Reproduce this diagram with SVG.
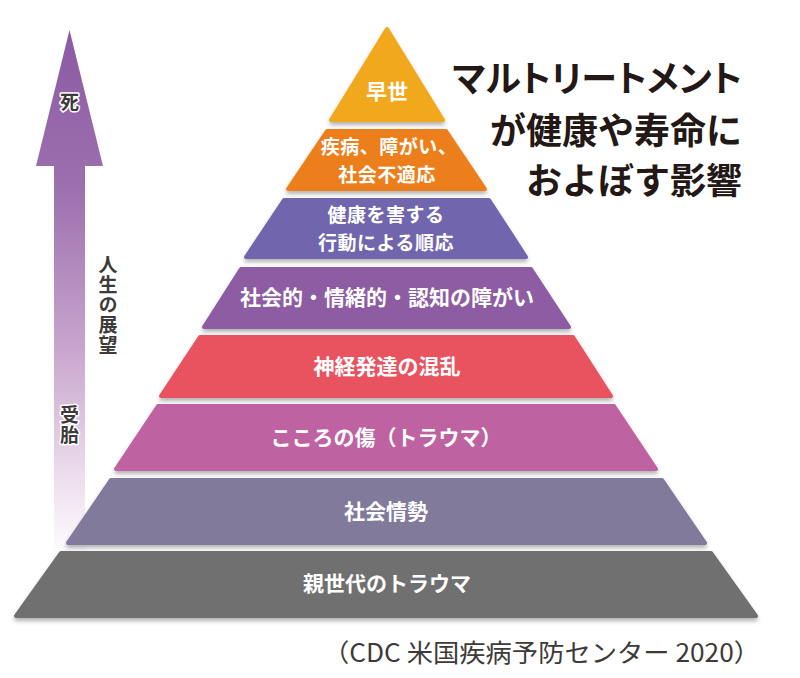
<svg xmlns="http://www.w3.org/2000/svg" width="800" height="678" viewBox="0 0 800 678">
<defs>
  <linearGradient id="arrowGrad" gradientUnits="userSpaceOnUse" x1="0" y1="30" x2="0" y2="560">
    <stop offset="0" stop-color="#8B5AA3"/>
    <stop offset="0.3" stop-color="#9D70AF"/>
    <stop offset="0.6" stop-color="#C8A5CD"/>
    <stop offset="0.85" stop-color="#EEDFEE"/>
    <stop offset="1" stop-color="#FFFFFF"/>
  </linearGradient>
  <filter id="shadow" x="-10%" y="-20%" width="120%" height="150%">
    <feDropShadow dx="0" dy="3" stdDeviation="2" flood-color="#000" flood-opacity="0.3"/>
  </filter>
  <style>
    .tier { stroke-width: 4; stroke-linejoin: round; filter: url(#shadow); }
    .lbl { font-family: "Noto Sans CJK JP", "Noto Sans", sans-serif; font-weight: bold; font-size: 21px; fill: #FFFFFF; text-anchor: middle; }
    .two { font-size: 19px; letter-spacing: 0.5px; }
    .title { font-family: "Noto Sans CJK JP", "Noto Sans", sans-serif; font-weight: bold; font-size: 36px; fill: #231815; text-anchor: end; }
    .side { font-family: "Noto Sans CJK JP", "Noto Sans", sans-serif; font-weight: bold; font-size: 19px; fill: #3E3A39; }
    .vert { writing-mode: vertical-rl; letter-spacing: 1px; }
    .halo { paint-order: stroke; stroke: #FFFFFF; stroke-width: 3; stroke-linejoin: round; }
    .cite { font-family: "Noto Sans CJK JP", "Noto Sans", sans-serif; font-size: 25px; fill: #3E3A39; text-anchor: end; }
  </style>
</defs>
<rect width="800" height="678" fill="#FFFFFF"/>

<g id="arrow">
  <polygon points="69.5,30 103,166 85,166 85,560 54,560 54,166 36,166" fill="url(#arrowGrad)"/>
  <text class="side halo" x="69.5" y="109" text-anchor="middle">死</text>
  <text class="side vert" x="108" y="255">人生の展望</text>
  <text class="side vert halo" x="69.5" y="405">受胎</text>
</g>

<g id="tier1">
  <polygon class="tier" points="387,29 443,120 331,120" fill="#F2A81D" stroke="#F2A81D"/>
  <text class="lbl" x="387" y="99">早世</text>
</g>
<g id="tier2">
  <polygon class="tier" points="327,131 446,131 485,189 288,189" fill="#EC7F1A" stroke="#EC7F1A"/>
  <text class="lbl two"><tspan x="389" y="154">疾病、障がい、</tspan><tspan x="387" y="182">社会不適応</tspan></text>
</g>
<g id="tier3">
  <polygon class="tier" points="284,200 489,200 526,257 246,257" fill="#7166AD" stroke="#7166AD"/>
  <text class="lbl two"><tspan x="386" y="222">健康を害する</tspan><tspan x="386" y="250">行動による順応</tspan></text>
</g>
<g id="tier4">
  <polygon class="tier" points="241,269 531,269 569,327 204,327" fill="#8D5BA3" stroke="#8D5BA3"/>
  <text class="lbl" x="387" y="305">社会的・情緒的・認知の障がい</text>
</g>
<g id="tier5">
  <polygon class="tier" points="200,337 573,337 611,396 161,396" fill="#E8525E" stroke="#E8525E"/>
  <text class="lbl" x="387" y="374">神経発達の混乱</text>
</g>
<g id="tier6">
  <polygon class="tier" points="158,406 614,406 656,469 116,469" fill="#BE62A2" stroke="#BE62A2"/>
  <text class="lbl" x="386" y="445">こころの傷（トラウマ）</text>
</g>
<g id="tier7">
  <polygon class="tier" points="111,480 662,480 705,543 68,543" fill="#817A9B" stroke="#817A9B"/>
  <text class="lbl" x="386" y="519">社会情勢</text>
</g>
<g id="tier8">
  <polygon class="tier" points="61,553 711,553 756,616 16,616" fill="#717071" stroke="#717071"/>
  <text class="lbl" x="387" y="591">親世代のトラウマ</text>
</g>

<g id="title">
  <text class="title" x="742" y="92" style="font-feature-settings: 'palt';">マルトリートメント</text>
  <text class="title" x="742" y="144">が健康や寿命に</text>
  <text class="title" x="742" y="194">およぼす影響</text>
</g>

<g id="connectors"></g>

<text class="cite" x="760" y="662" textLength="437" lengthAdjust="spacingAndGlyphs">（CDC 米国疾病予防センター 2020）</text>
</svg>
